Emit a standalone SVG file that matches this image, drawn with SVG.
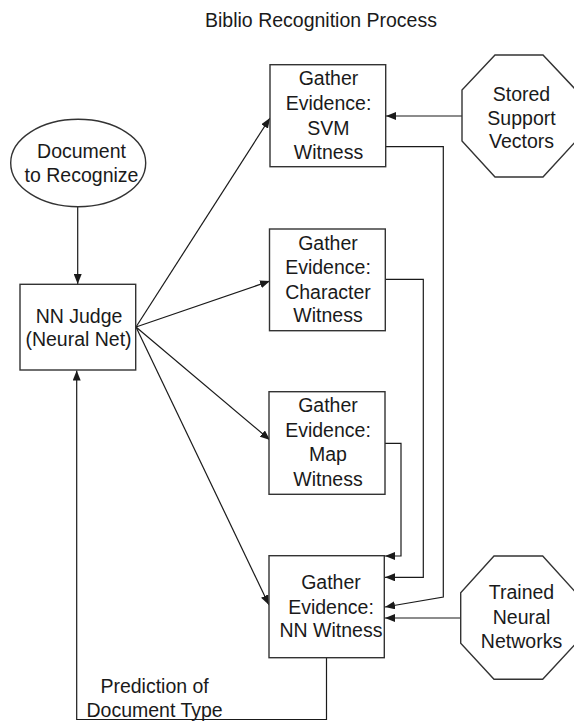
<svg xmlns="http://www.w3.org/2000/svg" width="574" height="721" viewBox="0 0 574 721">
<defs>
<marker id="ah" viewBox="0 0 10 8" refX="10" refY="4" markerWidth="10" markerHeight="8" markerUnits="userSpaceOnUse" orient="auto">
<path d="M0,0 L10,4 L0,8 Z" fill="#1a1a1a"/>
</marker>
</defs>
<style>
text{font-family:"Liberation Sans",Arial,sans-serif;font-size:19.5px;fill:#1a1a1a;text-anchor:middle}
.shape{fill:#fff;stroke:#333;stroke-width:1.4}
.conn{fill:none;stroke:#1a1a1a;stroke-width:1.2}
.arr{marker-end:url(#ah)}
</style>
<rect width="574" height="721" fill="#fff"/>
<text x="321" y="27" id="title">Biblio Recognition Process</text>

<g id="connectors">
<path class="conn arr" d="M77.7,207 L77.7,284"/>
<path class="conn arr" d="M462,116 L386,116"/>
<path class="conn arr" d="M385.5,146.7 L443.3,146.7 L443.3,597 L385,607"/>
<path class="conn arr" d="M385.5,279.3 L423.3,279.3 L423.3,577.3 L385,577.3"/>
<path class="conn arr" d="M385,443.3 L401,443.3 L401,556 L385,556"/>
<path class="conn arr" d="M461,618 L385,618"/>
<path class="conn arr" d="M326.5,658 L326.5,719.5 L76.7,719.5 L76.7,370.5"/>
<path class="conn arr" d="M136,327 L270,118"/>
<path class="conn arr" d="M136,327 L270,281"/>
<path class="conn arr" d="M136,327 L270,440"/>
<path class="conn arr" d="M136,327 L269,605"/>
</g>

<g id="document">
<ellipse class="shape" cx="78.2" cy="163" rx="67.5" ry="43.7"/>
<text x="81.5" y="158.3">Document</text>
<text x="81.5" y="181.7">to Recognize</text>
</g>

<g id="nnjudge">
<rect class="shape" x="20" y="284.3" width="115.7" height="85.7"/>
<text x="79" y="322.7">NN Judge</text>
<text x="78.5" y="346">(Neural Net)</text>
</g>

<g id="svm">
<rect class="shape" x="270" y="64.7" width="115.7" height="102"/>
<text x="328.5" y="85">Gather</text>
<text x="328.5" y="110">Evidence:</text>
<text x="328.5" y="135">SVM</text>
<text x="328.5" y="159">Witness</text>
</g>

<g id="character">
<rect class="shape" x="269.5" y="229" width="115.8" height="101.7"/>
<text x="328" y="250">Gather</text>
<text x="328" y="274.3">Evidence:</text>
<text x="328" y="299.3">Character</text>
<text x="328" y="321.7">Witness</text>
</g>

<g id="map">
<rect class="shape" x="269" y="391.7" width="116" height="102.6"/>
<text x="328" y="411.7">Gather</text>
<text x="328" y="436.7">Evidence:</text>
<text x="328" y="461">Map</text>
<text x="328" y="485.7">Witness</text>
</g>

<g id="nnwitness">
<rect class="shape" x="269" y="555.7" width="115.3" height="102"/>
<text x="331" y="589.3">Gather</text>
<text x="331" y="614">Evidence:</text>
<text x="331" y="637.3">NN Witness</text>
</g>

<g id="stored">
<polygon class="shape" points="495,55 543,55 576,90 576,141 543,177 495,177 462,141 462,90"/>
<text x="521.5" y="101">Stored</text>
<text x="521.5" y="125">Support</text>
<text x="521.5" y="148">Vectors</text>
</g>

<g id="trained">
<polygon class="shape" points="494,556 542.7,556 576,592.7 576,643.3 542.7,679.3 494,679.3 460.7,643.3 460.7,592.7"/>
<text x="521.5" y="599.3">Trained</text>
<text x="521.5" y="624">Neural</text>
<text x="521.5" y="648.3">Networks</text>
</g>

<g id="label">
<text x="154.6" y="693.3">Prediction of</text>
<text x="154.6" y="716.7">Document Type</text>
</g>
</svg>
